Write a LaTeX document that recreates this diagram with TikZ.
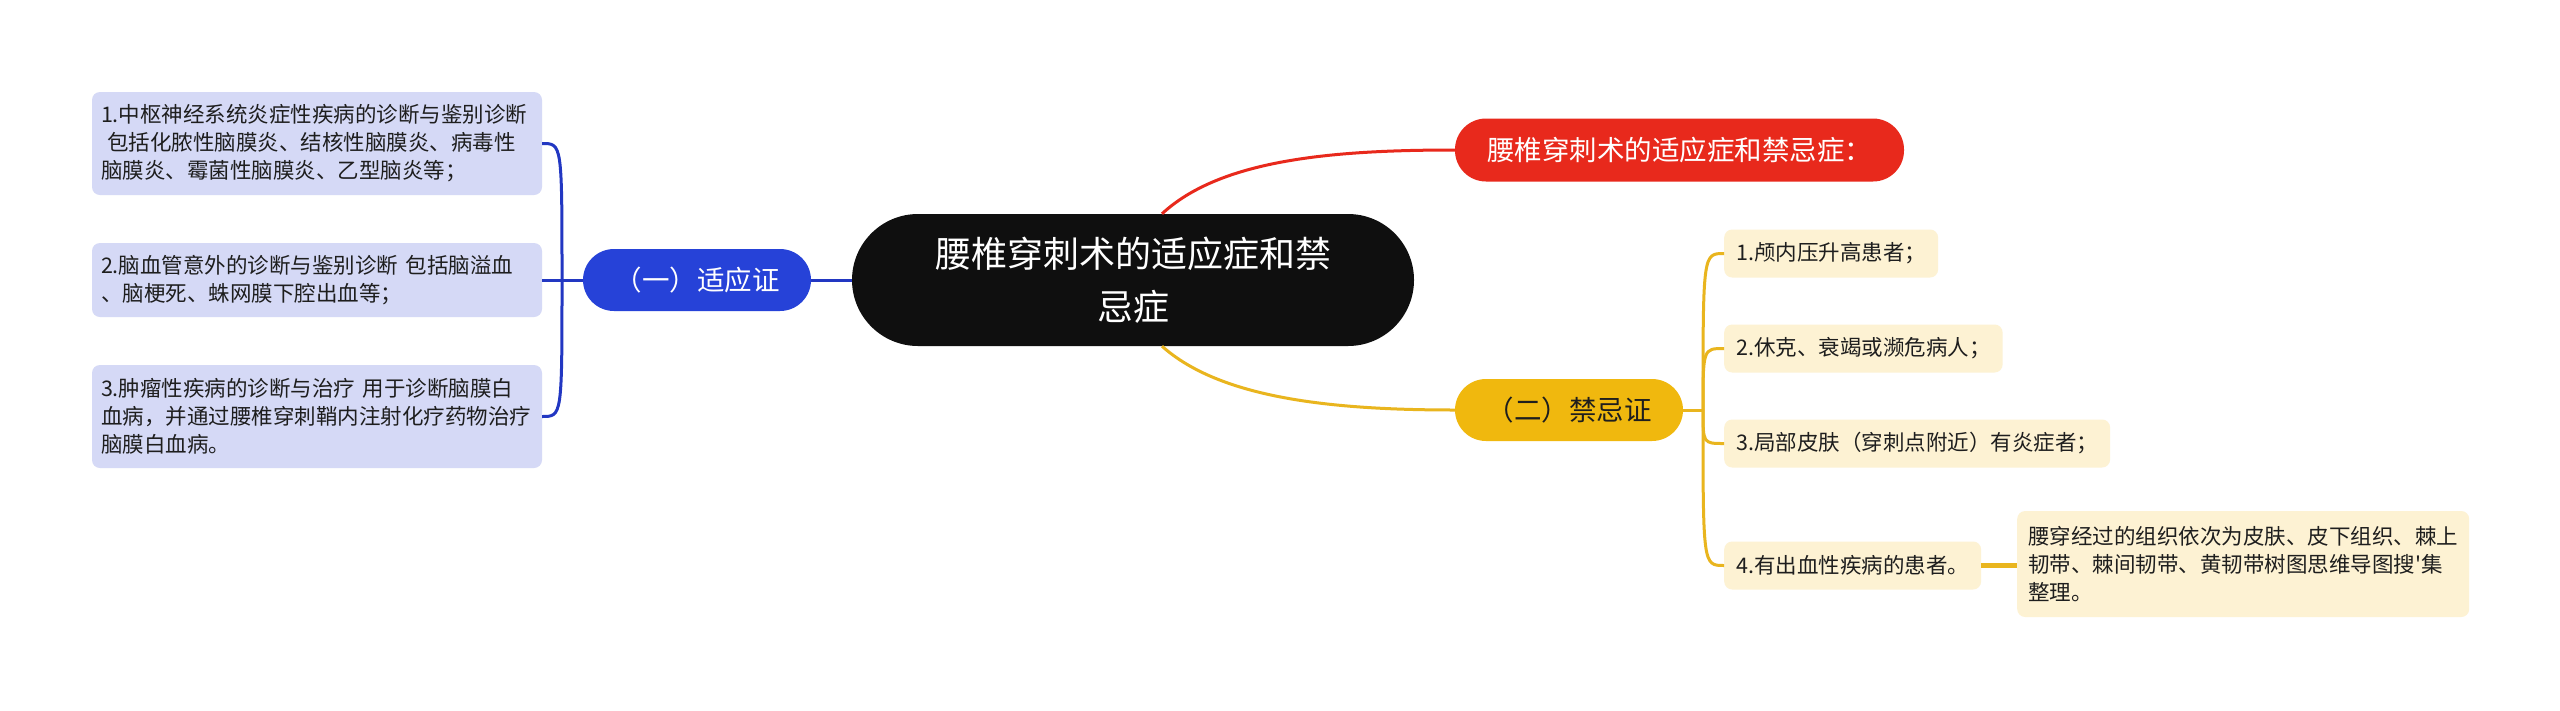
\documentclass[tikz,border=0pt]{standalone}
\usepackage{fontspec}
\newfontfamily\cjk{Noto Sans CJK SC}
\definecolor{rootfill}{HTML}{0F0F0F}
\definecolor{bluefill}{HTML}{2642D8}
\definecolor{blueline}{HTML}{2237C2}
\definecolor{lavfill}{HTML}{D5D9F6}
\definecolor{redfill}{HTML}{E8291C}
\definecolor{yellowfill}{HTML}{F0B80E}
\definecolor{yellowline}{HTML}{E9B51E}
\definecolor{creamfill}{HTML}{FDF2D3}
\definecolor{darktext}{HTML}{1E1E1E}
\tikzset{
  rootbox/.style={rectangle, fill=rootfill, text=white, rounded corners=66pt,
    minimum width=562pt, minimum height=132pt, inner sep=0pt, align=center,
    font={\cjk\fontsize{36}{53}\selectfont}},
  pillbox/.style={rectangle, rounded corners=31pt, minimum width=228pt,
    minimum height=62pt, inner sep=0pt, font={\cjk\fontsize{27.5}{32}\selectfont}},
  lavbox/.style={rectangle, fill=lavfill, text=darktext, rounded corners=8pt,
    text width=432pt, inner xsep=9pt, inner ysep=0pt, align=left,
    font={\cjk\fontsize{21.5}{28}\selectfont}},
  creambox/.style={rectangle, fill=creamfill, text=darktext, rounded corners=8pt,
    inner xsep=12pt, inner ysep=0pt, minimum height=48pt, anchor=west,
    font={\cjk\fontsize{21.5}{28}\selectfont}},
  bluecon/.style={draw=blueline, line width=3pt},
  redcon/.style={draw=redfill, line width=3pt},
  yellowcon/.style={draw=yellowline, line width=3pt},
}
\begin{document}
\begin{tikzpicture}[x=1pt,y=-1pt]
\useasboundingbox (0,0) rectangle (2560,710);
\fill[white] (0,0) rectangle (2560,710);

\path (1133,280) node[rootbox] (root) {腰椎穿刺术的适应症和禁\\忌症};
\path (697,280) node[pillbox, fill=bluefill, text=white] (blue) {（一）适应证};
\path (1679.5,150) node[pillbox, fill=redfill, text=white, minimum width=449pt, minimum height=63pt] (red) {腰椎穿刺术的适应症和禁忌症：};
\path (1569,410) node[pillbox, fill=yellowfill, text=darktext] (yellow) {（二）禁忌证};

\path (317,143.5) node[lavbox, minimum height=103pt] (b1) {1.中枢神经系统炎症性疾病的诊断与鉴别诊断\\\hspace*{6pt}包括化脓性脑膜炎、结核性脑膜炎、病毒性\\脑膜炎、霉菌性脑膜炎、乙型脑炎等；};
\path (317,280) node[lavbox, minimum height=74pt] (b2) {2.脑血管意外的诊断与鉴别诊断 包括脑溢血\\、脑梗死、蛛网膜下腔出血等；};
\path (317,416.5) node[lavbox, minimum height=103pt] (b3) {3.肿瘤性疾病的诊断与治疗 用于诊断脑膜白\\血病，并通过腰椎穿刺鞘内注射化疗药物治疗\\脑膜白血病。};

\path (1724,253.5) node[creambox] (c1) {1.颅内压升高患者；};
\path (1724,348.5) node[creambox] (c2) {2.休克、衰竭或濒危病人；};
\path (1724,443.5) node[creambox] (c3) {3.局部皮肤（穿刺点附近）有炎症者；};
\path (1724,565.5) node[creambox] (c4) {4.有出血性疾病的患者。};
\path (2017,564) node[creambox, minimum height=106pt, align=left, inner xsep=11pt] (leaf) {腰穿经过的组织依次为皮肤、皮下组织、棘上\\韧带、棘间韧带、黄韧带树图思维导图搜'集\\整理。};

\coordinate (bj) at (562,280);
\coordinate (yj) at (1703,410);

% blue branch
\draw[bluecon] (root.west) -- (blue.east);
\draw[bluecon] (blue.west) -- (bj);
\draw[bluecon] (bj) -- (b2.east);
\draw[bluecon] (bj) .. controls (562,143.5) and (562,143.5) .. (b1.east);
\draw[bluecon] (bj) .. controls (562,416.5) and (562,416.5) .. (b3.east);

% red branch
\draw[redcon] ([xshift=29pt]root.north) .. controls (1220,160) and (1330,150) .. (red.west);

% yellow branch
\draw[yellowcon] ([xshift=29pt]root.south) .. controls (1220,398) and (1330,410) .. (yellow.west);
\draw[yellowcon] (yellow.east) -- (yj);
\draw[yellowcon] (yj) .. controls (1703,253.5) and (1703,253.5) .. (c1.west);
\draw[yellowcon] (yj) .. controls (1703,348.5) and (1703,348.5) .. (c2.west);
\draw[yellowcon] (yj) .. controls (1703,443.5) and (1703,443.5) .. (c3.west);
\draw[yellowcon] (yj) .. controls (1703,565.5) and (1703,565.5) .. (c4.west);
\draw[draw=yellowline, line width=4.5pt] (c4.east) -- (c4.east -| leaf.west);
\end{tikzpicture}
\end{document}
